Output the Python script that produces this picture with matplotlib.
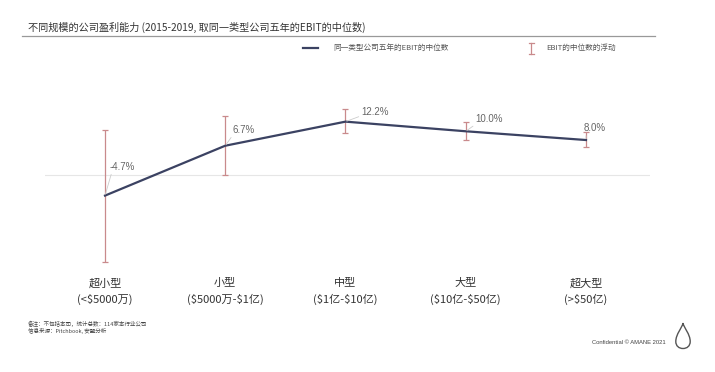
import matplotlib
matplotlib.use("Agg")
import matplotlib.pyplot as plt
from matplotlib.lines import Line2D
from matplotlib.path import Path
from matplotlib.patches import PathPatch

plt.rcParams['font.family'] = ['Noto Sans CJK SC', 'DejaVu Sans']

# data (EBIT margin, %)
sizes = ["超小型", "小型", "中型", "大型", "超大型"]
ranges = ["(<\\$5000万)", "(\\$5000万-\\$1亿)", "(\\$1亿-\\$10亿)", "(\\$10亿-\\$50亿)", "(>\\$50亿)"]
median_ebit = [-4.7, 6.7, 12.2, 10.0, 8.0]
range_high = [10.3, 13.5, 15.0, 12.1, 9.8]
range_low = [-19.8, 0.0, 9.5, 7.9, 6.3]
# label offsets in pixels (dx, dy)
label_offsets = [(5, 29), (7, 16), (16, 10), (10, 12), (-2, 12)]

LINE_COLOR = "#3b4262"
BAR_COLOR = "#c98a8c"
TEXT_COLOR = "#555555"

W, H = 715, 372
fig = plt.figure(figsize=(W / 100, H / 100), dpi=100)


def fx(px):
    return px / W


def fy(py):
    return 1 - py / H


ax = fig.add_axes([fx(44.9), fy(270), (649.7 - 44.9) / W, 200 / H])
x = list(range(len(sizes)))
yerr = [[m - lo for m, lo in zip(median_ebit, range_low)],
        [hi - m for m, hi in zip(median_ebit, range_high)]]

ax.axhline(0, color="#e6e6e6", lw=0.8, zorder=0)
ax.errorbar(x, median_ebit, yerr=yerr, fmt="none", ecolor=BAR_COLOR,
            elinewidth=0.9, capsize=2, capthick=0.9, zorder=2)
ax.plot(x, median_ebit, color=LINE_COLOR, lw=1.6, zorder=3)

for xi, yi, (dx, dy) in zip(x, median_ebit, label_offsets):
    ax.annotate(f"{yi:.1f}%", xy=(xi, yi), xytext=(dx, dy), textcoords="offset pixels",
                ha="left", va="center", fontsize=7, color="#666666",
                family=["Liberation Sans", "DejaVu Sans"],
                arrowprops=dict(arrowstyle="-", color="#cccccc", lw=0.6,
                                shrinkA=0, shrinkB=1, relpos=(0.1, 0.2)),
                zorder=4)

ax.set_xlim(-0.5, 4.53)
ax.set_ylim(-21.7, 24.0)
ax.set_xticks(x)
ax.set_xticklabels([f"{s}\n{r}" for s, r in zip(sizes, ranges)],
                   fontsize=8, color="#333333", linespacing=1.6)
ax.tick_params(axis="x", length=0, pad=6)
ax.set_yticks([])
for sp in ax.spines.values():
    sp.set_visible(False)
ax.patch.set_alpha(0)

# title and rule
fig.text(fx(28), fy(27), "不同规模的公司盈利能力 (2015-2019, 取同一类型公司五年的EBIT的中位数)",
         fontsize=7.3, color="#333333", ha="left", va="center")
fig.add_artist(Line2D([fx(22), fx(655)], [fy(36), fy(36)], color="#999999", lw=0.9))

# legend
fig.add_artist(Line2D([fx(303), fx(318)], [fy(48), fy(48)], color=LINE_COLOR, lw=1.6))
fig.text(fx(333), fy(48), "同一类型公司五年的EBIT的中位数", fontsize=5.5,
         color=TEXT_COLOR, ha="left", va="center")
fig.add_artist(Line2D([fx(531), fx(531)], [fy(43), fy(54)], color=BAR_COLOR, lw=0.9))
fig.add_artist(Line2D([fx(528.5), fx(533.5)], [fy(43), fy(43)], color=BAR_COLOR, lw=0.9))
fig.add_artist(Line2D([fx(528.5), fx(533.5)], [fy(54), fy(54)], color=BAR_COLOR, lw=0.9))
fig.text(fx(546), fy(48), "EBIT的中位数的浮动", fontsize=5.5,
         color=TEXT_COLOR, ha="left", va="center")

# footnotes
fig.text(fx(28), fy(324), "备注：不包括本司，统计总数：114家本行业公司", fontsize=4,
         color="#444444", ha="left", va="center")
fig.text(fx(28), fy(331), "信息来源：Pitchbook, 安盟分析", fontsize=4,
         color="#444444", ha="left", va="center")
fig.text(fx(592), fy(342), "Confidential © AMANE 2021", fontsize=4.2,
         color="#444444", ha="left", va="center",
         family=["Liberation Sans", "DejaVu Sans"])

# drop logo
lax = fig.add_axes([fx(674), fy(350), 18 / W, 28 / H])
lax.set_xlim(-1, 1)
lax.set_ylim(-1.2, 1.6)
lax.axis("off")
drop = Path([(0, 1.5),
             (0.1, 1.0), (0.8, 0.4), (0.8, -0.35),
             (0.8, -0.8), (0.45, -1.05), (0, -1.05),
             (-0.45, -1.05), (-0.8, -0.8), (-0.8, -0.35),
             (-0.8, 0.4), (-0.1, 1.0), (0, 1.5)],
            [Path.MOVETO] + [Path.CURVE4] * 12)
lax.add_patch(PathPatch(drop, facecolor="white", edgecolor="#555555", lw=1.0))

fig.savefig("out.png", dpi=100)
